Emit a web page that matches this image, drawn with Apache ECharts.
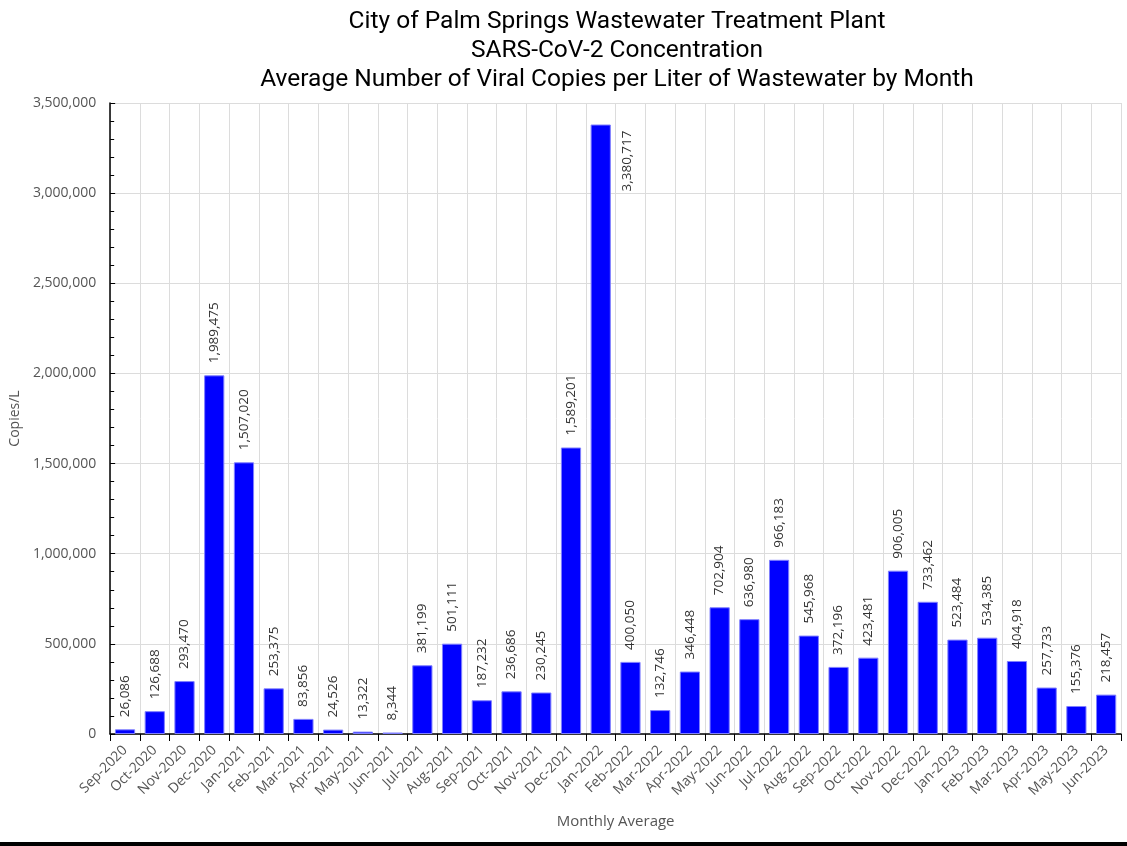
<!DOCTYPE html>
<html>
<head>
<meta charset="utf-8">
<script src="https://cdn.jsdelivr.net/npm/echarts@6/dist/echarts.min.js"></script>
<style>html,body{margin:0;padding:0;background:#fff}#c{width:1127px;height:846px}</style>
</head>
<body>
<div id="c"></div>
<script>
const titleLines = ["City of Palm Springs Wastewater Treatment Plant", "SARS-CoV-2 Concentration", "Average Number of Viral Copies per Liter of Wastewater by Month"];
const categories = ["Sep-2020","Oct-2020","Nov-2020","Dec-2020","Jan-2021","Feb-2021","Mar-2021","Apr-2021","May-2021","Jun-2021","Jul-2021","Aug-2021","Sep-2021","Oct-2021","Nov-2021","Dec-2021","Jan-2022","Feb-2022","Mar-2022","Apr-2022","May-2022","Jun-2022","Jul-2022","Aug-2022","Sep-2022","Oct-2022","Nov-2022","Dec-2022","Jan-2023","Feb-2023","Mar-2023","Apr-2023","May-2023","Jun-2023"];
const values = [26086,126688,293470,1989475,1507020,253375,83856,24526,13322,8344,381199,501111,187232,236686,230245,1589201,3380717,400050,132746,346448,702904,636980,966183,545968,372196,423481,906005,733462,523484,534385,404918,257733,155376,218457];
const yMin = 0, yMax = 3500000, yInterval = 500000;

const fmt = v => v.toLocaleString('en-US');
const peakIndex = values.indexOf(Math.max(...values));

const data = values.map((v, i) => {
  if (i === peakIndex) {
    return {
      value: v,
      label: { position: [37, 6], rotate: 90, align: 'right', verticalAlign: 'middle' }
    };
  }
  return v;
});

const chart = echarts.init(document.getElementById('c'));
chart.setOption({
  animation: false,
  backgroundColor: '#fff',
  title: {
    text: titleLines.join('\n'),
    left: 612, top: 2, textAlign: 'center',
    textStyle: { fontFamily: 'Roboto', fontWeight: 'normal', fontSize: 24.5, color: '#000', lineHeight: 29 }
  },
  grid: { left: 109, right: 6, top: 103, bottom: 112 },
  xAxis: {
    type: 'category',
    data: categories,
    name: 'Monthly Average',
    nameLocation: 'middle',
    nameGap: 80,
    nameTextStyle: { fontFamily: 'Open Sans', fontSize: 15, color: '#555' },
    axisLine: { lineStyle: { color: '#000', width: 1.5 } },
    axisTick: { show: true, length: 7, lineStyle: { color: '#000' } },
    axisLabel: { interval: 0, rotate: 45, fontFamily: 'Open Sans', fontSize: 14, color: '#555', margin: 14 },
    splitLine: { show: true, lineStyle: { color: '#dcdcdc' } }
  },
  yAxis: {
    type: 'value',
    min: yMin, max: yMax, interval: yInterval,
    name: 'Copies/L',
    nameLocation: 'middle',
    nameGap: 88,
    nameTextStyle: { fontFamily: 'Open Sans', fontSize: 14, color: '#555' },
    axisLine: { show: true, lineStyle: { color: '#000', width: 1.5 } },
    axisTick: { show: true, inside: true, length: 5, lineStyle: { color: '#000' } },
    minorTick: { show: true, splitNumber: 5, length: 4, lineStyle: { color: '#000' } },
    axisLabel: { formatter: v => fmt(v), fontFamily: 'Open Sans', fontSize: 14, color: '#555', margin: 14 },
    splitLine: { show: true, lineStyle: { color: '#dcdcdc' } }
  },
  series: [{
    type: 'bar',
    data: data,
    barCategoryGap: '32%',
    itemStyle: { color: '#0000ff', borderColor: '#8080ff', borderWidth: 1 },
    label: {
      show: true, position: 'top', rotate: 90, align: 'left', verticalAlign: 'middle', distance: 12,
      formatter: p => fmt(p.value), fontFamily: 'Open Sans', fontSize: 13.5, color: '#333'
    }
  }],
  graphic: [{
    type: 'rect', left: 0, bottom: 0,
    shape: { width: 1127, height: 4 },
    style: { fill: '#000' }
  }]
});
</script>
</body>
</html>
